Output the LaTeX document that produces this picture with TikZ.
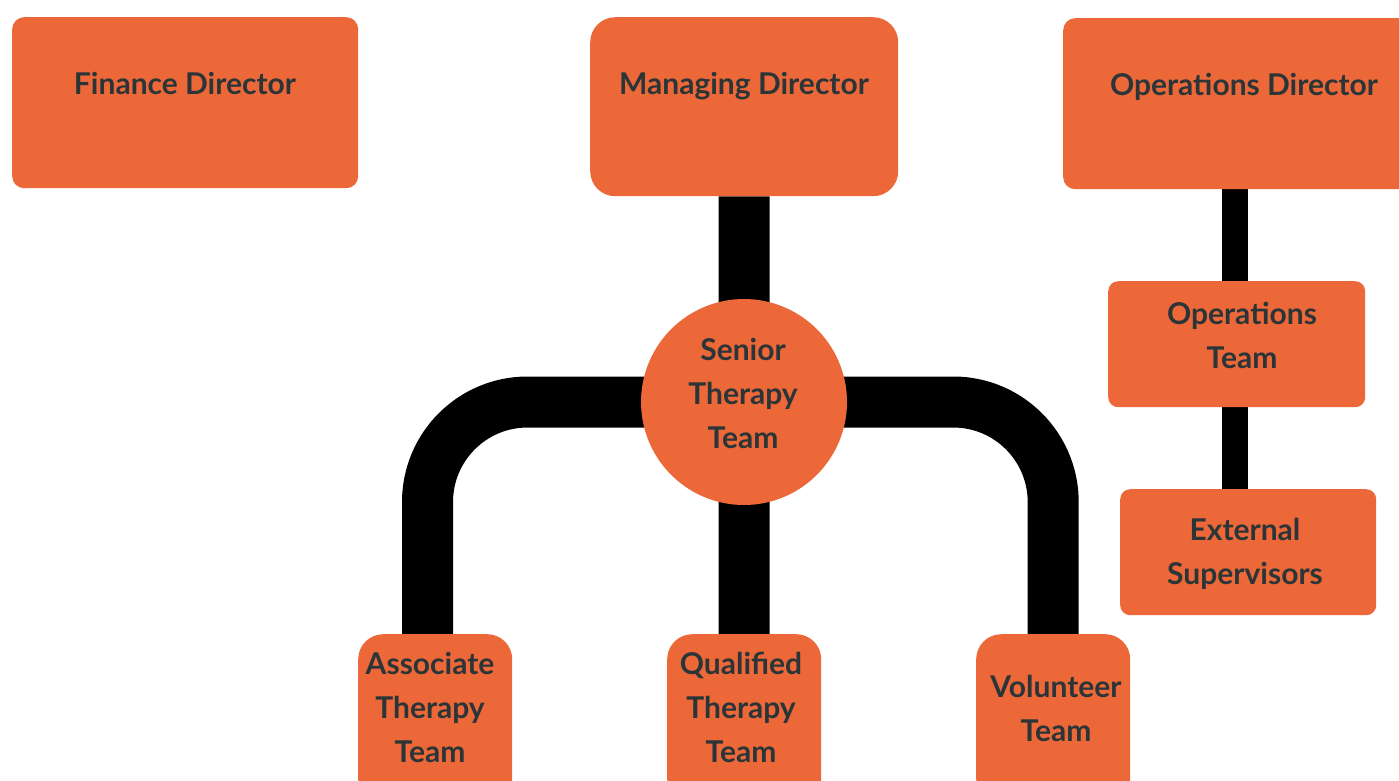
\documentclass[tikz,border=0pt]{standalone}
\usepackage{fontspec}
\setmainfont{Lato}
\usetikzlibrary{backgrounds}
\definecolor{boxorange}{HTML}{EC6839}
\definecolor{txtdark}{HTML}{2B3538}
\newcommand\stk[1]{\vtop{\baselineskip=44pt\halign{\hfil##\hfil\cr#1\crcr}}}
\begin{document}
\begin{tikzpicture}[x=1pt,y=-1pt,
  box/.style={fill=boxorange, draw=none, anchor=north west, inner sep=0pt},
  lbl/.style={anchor=base, inner sep=0pt, text=txtdark, font=\fontsize{30}{44}\selectfont\bfseries},
  bar/.style={line width=51pt, black, line cap=butt},
  thinbar/.style={line width=26pt, black, line cap=butt}]
\useasboundingbox (0,0) rectangle (1399,780);
% boxes
\node[box, rounded corners=12pt, minimum width=346pt, minimum height=171pt] (fin) at (12,17) {};
\node[box, rounded corners=25pt, minimum width=308pt, minimum height=179pt] (md) at (590,17) {};
\node[box, rounded corners=12pt, minimum width=370pt, minimum height=171pt] (opsdir) at (1063,18) {};
\node[circle, fill=boxorange, minimum size=206pt, inner sep=0pt] (senior) at (744,402) {};
\node[box, rounded corners=25pt, minimum width=154pt, minimum height=170pt] (assoc) at (358,634) {};
\node[box, rounded corners=25pt, minimum width=154pt, minimum height=170pt] (qual) at (667,634) {};
\node[box, rounded corners=25pt, minimum width=154pt, minimum height=170pt] (vol) at (976,634) {};
\node[box, rounded corners=10pt, minimum width=257pt, minimum height=126pt] (opsteam) at (1108,281) {};
\node[box, rounded corners=10pt, minimum width=256pt, minimum height=126pt] (ext) at (1120,489) {};
% labels
\node[lbl] (tfin) at (185,94) {Finance Director};
\node[lbl] (tmd) at (744,94) {Managing Director};
\node[lbl] (topsdir) at (1244,95) {Operations Director};
\node[lbl] (tsenior) at (743,360) {\stk{Senior\cr Therapy\cr Team}};
\node[lbl] (tassoc) at (430,674) {\stk{Associate\cr Therapy\cr Team}};
\node[lbl] (tqual) at (741,674) {\stk{Qualified\cr Therapy\cr Team}};
\node[lbl] (tvol) at (1056,697) {\stk{Volunteer\cr Team}};
\node[lbl] (topsteam) at (1242,324) {\stk{Operations\cr Team}};
\node[lbl] (text) at (1245,540) {\stk{External\cr Supervisors}};
% connectors
\coordinate (la) at (427.5,634);
\begin{pgfonlayer}{background}
\draw[bar] (md.south) -- (senior.center);
\draw[bar] (senior.center) -- (qual.north);
\draw[bar, rounded corners=100pt] (senior.center) -| (la);
\draw[bar, rounded corners=100pt] (senior.center) -| (vol.north);
\draw[thinbar] (opsteam.north -| 1235,0) -- (1235,0 |- opsdir.south);
\draw[thinbar] (opsteam.south -| 1235,0) -- (1235,0 |- ext.north);
\end{pgfonlayer}
\end{tikzpicture}
\end{document}
